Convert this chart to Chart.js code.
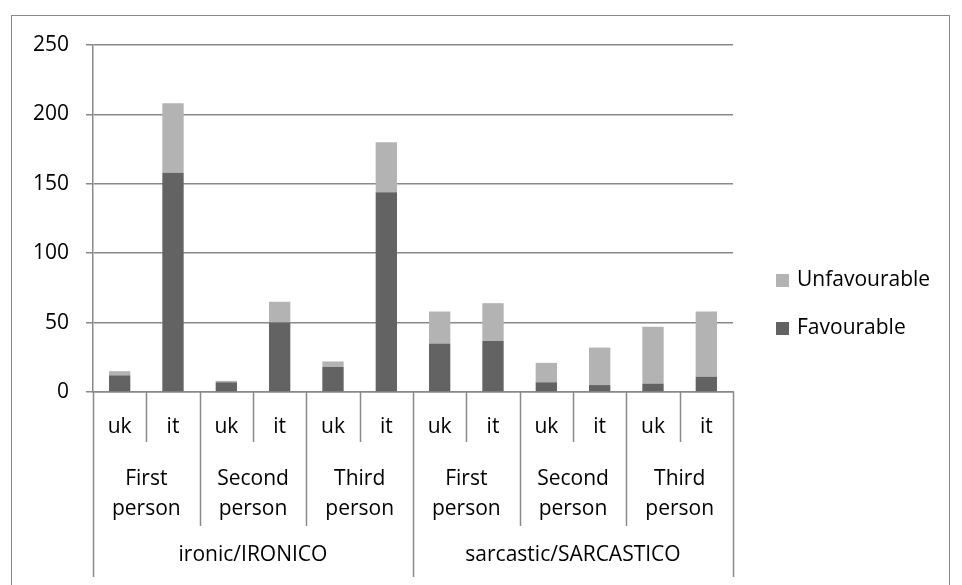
<!DOCTYPE html>
<html>
<head>
<meta charset="utf-8">
<script src="https://cdn.jsdelivr.net/npm/chart.js@4"></script>
<style>
  body { margin: 0; background: #fff; }
  #wrap { position: relative; width: 962px; height: 585px; overflow: hidden; }
  #frame { position: absolute; left: 11px; top: 15px; width: 937px; height: 600px; border: 1.5px solid #898989; }
  canvas { position: absolute; left: 0; top: 0; }
  .leg { position: absolute; left: 776px; font: 21px 'Open Sans', sans-serif; color: #000; line-height: 24px; }
  .leg span { display: inline-block; width: 13px; height: 13px; margin-right: 8px; vertical-align: -1px; }
</style>
</head>
<body>
<div id="wrap">
  <div id="frame"></div>
  <canvas id="chart" width="962" height="585"></canvas>
  <div class="leg" style="top:266px"><span style="background:#b3b3b3"></span>Unfavourable</div>
  <div class="leg" style="top:314px"><span style="background:#636363"></span>Favourable</div>
</div>
<script>
const tones = ['ironic/IRONICO', 'sarcastic/SARCASTICO']
const persons = [['First', 'person'], ['Second', 'person'], ['Third', 'person']]
const countries = ['uk', 'it']
const favourable = [12, 158, 7, 50, 18, 144, 35, 37, 7, 5, 6, 11]
const unfavourable = [3, 50, 1, 15, 4, 36, 23, 27, 14, 27, 41, 47]
const yTicks = [0, 50, 100, 150, 200, 250]

const labels = []
for (let t = 0; t < tones.length; t++) {
  for (let p = 0; p < persons.length; p++) {
    for (let c = 0; c < countries.length; c++) {
      labels.push(countries[c])
    }
  }
}

const lineColour = '#898989'
const font = "21px 'Open Sans', sans-serif"

// draws the three-level category table under the plot
const tablePlugin = {
  id: 'table',
  afterDraw(chart) {
    const ctx = chart.ctx
    const x = chart.scales.x
    const area = chart.chartArea
    const top = area.bottom
    const n = labels.length
    const edge = i => {
      if (i === 0) return area.left
      if (i === n) return area.right
      return (x.getPixelForValue(i - 1) + x.getPixelForValue(i)) / 2
    }
    ctx.save()
    ctx.strokeStyle = lineColour
    ctx.lineWidth = 1.5
    for (let i = 0; i <= n; i++) {
      let depth = 50
      if (i % 2 === 0) depth = 134
      if (i % 6 === 0) depth = 185
      const px = Math.round(edge(i)) + 0.5
      ctx.beginPath()
      ctx.moveTo(px, top)
      ctx.lineTo(px, top + depth)
      ctx.stroke()
    }
    ctx.fillStyle = '#000'
    ctx.font = font
    ctx.textAlign = 'center'
    ctx.textBaseline = 'alphabetic'
    for (let i = 0; i < n; i++) {
      ctx.fillText(labels[i], x.getPixelForValue(i), top + 41)
    }
    for (let g = 0; g < n / 2; g++) {
      const cx = (edge(g * 2) + edge(g * 2 + 2)) / 2
      const words = persons[g % persons.length]
      ctx.fillText(words[0], cx, top + 93)
      ctx.fillText(words[1], cx, top + 123)
    }
    for (let t = 0; t < tones.length; t++) {
      const cx = (edge(t * 6) + edge(t * 6 + 6)) / 2
      ctx.fillText(tones[t], cx, top + 169)
    }
    ctx.restore()
  }
}

const chart = new Chart(
  document.getElementById('chart').getContext('2d'),
  {
    type: 'bar',
    data: {
      labels: labels,
      datasets: [
        {label: 'Favourable', data: favourable, backgroundColor: '#636363', barPercentage: 0.4, categoryPercentage: 1},
        {label: 'Unfavourable', data: unfavourable, backgroundColor: '#b3b3b3', barPercentage: 0.4, categoryPercentage: 1}
      ]
    },
    options: {
      responsive: false,
      animation: false,
      layout: {padding: {top: 45, right: 229, left: 0, bottom: 0}},
      plugins: {legend: {display: false}, tooltip: {enabled: false}},
      scales: {
        x: {
          stacked: true,
          grid: {display: false},
          border: {display: true, color: lineColour, width: 1.5},
          ticks: {display: false},
          afterFit: s => { s.height = 193 }
        },
        y: {
          stacked: true,
          min: 0,
          max: 250,
          afterBuildTicks: s => { s.ticks = yTicks.map(v => ({value: v})) },
          grid: {color: lineColour, lineWidth: 1.5, tickLength: 7},
          border: {display: true, color: lineColour, width: 1.5},
          ticks: {color: '#000', font: {family: 'Open Sans', size: 21}, padding: 17},
          afterFit: s => { s.width = 93 }
        }
      }
    },
    plugins: [tablePlugin]
  }
)
</script>
</body>
</html>
